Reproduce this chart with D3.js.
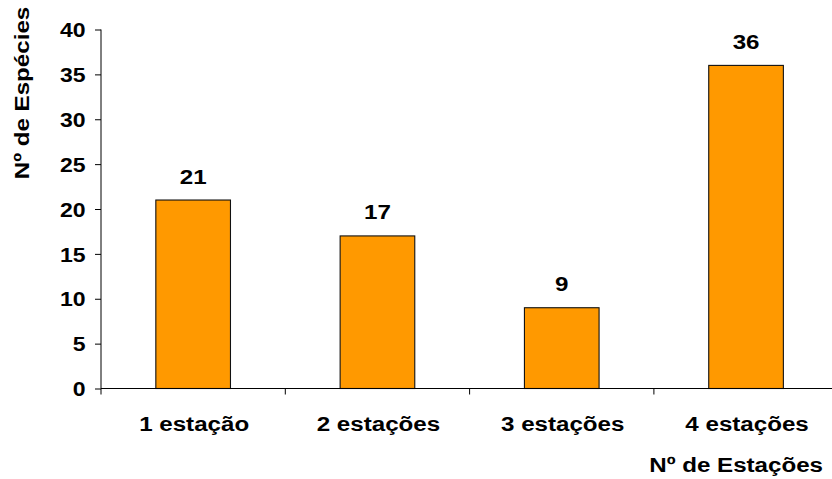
<!DOCTYPE html>
<html>
<head>
<meta charset="utf-8">
<script src="https://cdn.jsdelivr.net/npm/d3@7"></script>
<style>
  html, body { margin: 0; padding: 0; background: #fff; }
  svg { display: block; }
  text { font-family: "Liberation Sans", Arial, sans-serif; font-weight: bold; fill: #000; }
</style>
</head>
<body>
<svg id="chart" width="832" height="479"></svg>
<script>
// Number of species found in 1, 2, 3 or all 4 seasons
const categories = ["1 estação", "2 estações", "3 estações", "4 estações"];
const species = [21, 17, 9, 36];
const yTicks = [0, 5, 10, 15, 20, 25, 30, 35, 40];
const yTitle = "Nº de Espécies";
const xTitle = "Nº de Estações";

const svg = d3.select("#chart");
const plotLeft = 101, plotRight = 838.2, plotTop = 29.5, plotBottom = 388.5;
const sx = 1.15; // wide lettering

const x = d3.scaleBand().domain(categories).range([plotLeft, plotRight]).padding(0);
const xBar = d3.scaleBand().domain(categories).range([plotLeft, plotRight])
  .paddingInner(0.595).paddingOuter(0.595 / 2);
const y = d3.scaleLinear().domain([0, 40]).range([plotBottom, plotTop]);

const rows = categories.map((c, i) => ({ c, v: species[i] }));

// Bars
svg.append("g").selectAll("rect")
  .data(rows)
  .join("rect")
  .attr("x", d => xBar(d.c))
  .attr("y", d => y(d.v))
  .attr("width", xBar.bandwidth())
  .attr("height", d => y(0) - y(d.v))
  .attr("fill", "#FF9900")
  .attr("stroke", "#111")
  .attr("stroke-width", 1.1);

// Value labels above bars
svg.append("g").selectAll("g")
  .data(rows)
  .join("g")
  .attr("transform", d => `translate(${xBar(d.c) + xBar.bandwidth() / 2},${y(d.v) - 16.5}) scale(${sx},1)`)
  .append("text")
  .attr("text-anchor", "middle")
  .style("font-size", "21px")
  .text(d => d.v);

// Y axis
const yAxis = d3.axisLeft(y).tickValues(yTicks).tickSize(6).tickPadding(0).tickFormat(d3.format("d"));
const gy = svg.append("g").attr("transform", `translate(${plotLeft},0)`).call(yAxis);
gy.select(".domain").attr("stroke", "#000").attr("d", `M0,${plotTop}V${plotBottom}`);
gy.selectAll(".tick line").attr("stroke", "#000");
gy.selectAll(".tick text").each(function () {
  const t = d3.select(this);
  const label = t.text();
  const tick = d3.select(this.parentNode);
  t.remove();
  tick.append("g").attr("transform", `translate(-15.5,7.2) scale(${sx},1)`)
    .append("text").attr("text-anchor", "end").style("font-size", "20px").text(label);
});

// X axis: ticks at category boundaries
const boundaries = d3.range(categories.length + 1).map(i => plotLeft + i * x.step());
const gx = svg.append("g");
gx.append("line").attr("x1", plotLeft).attr("x2", plotRight).attr("y1", plotBottom).attr("y2", plotBottom)
  .attr("stroke", "#000").attr("stroke-width", 1);
gx.selectAll("line.tk").data(boundaries).join("line").attr("class", "tk")
  .attr("x1", d => d).attr("x2", d => d).attr("y1", plotBottom).attr("y2", plotBottom + 6)
  .attr("stroke", "#000");
gx.selectAll("g.lbl").data(categories).join("g").attr("class", "lbl")
  .attr("transform", d => `translate(${x(d) + x.bandwidth() / 2 + 1},431) scale(${sx},1)`)
  .append("text").attr("text-anchor", "middle").style("font-size", "21px").text(d => d);

// Axis titles
svg.append("g").attr("transform", `translate(823,471.5) scale(${sx},1)`)
  .append("text").attr("text-anchor", "end").style("font-size", "21px").text(xTitle);
svg.append("g").attr("transform", `translate(28.5,93) rotate(-90) scale(${sx},1)`)
  .append("text").attr("text-anchor", "middle").style("font-size", "21px").text(yTitle);
</script>
</body>
</html>
